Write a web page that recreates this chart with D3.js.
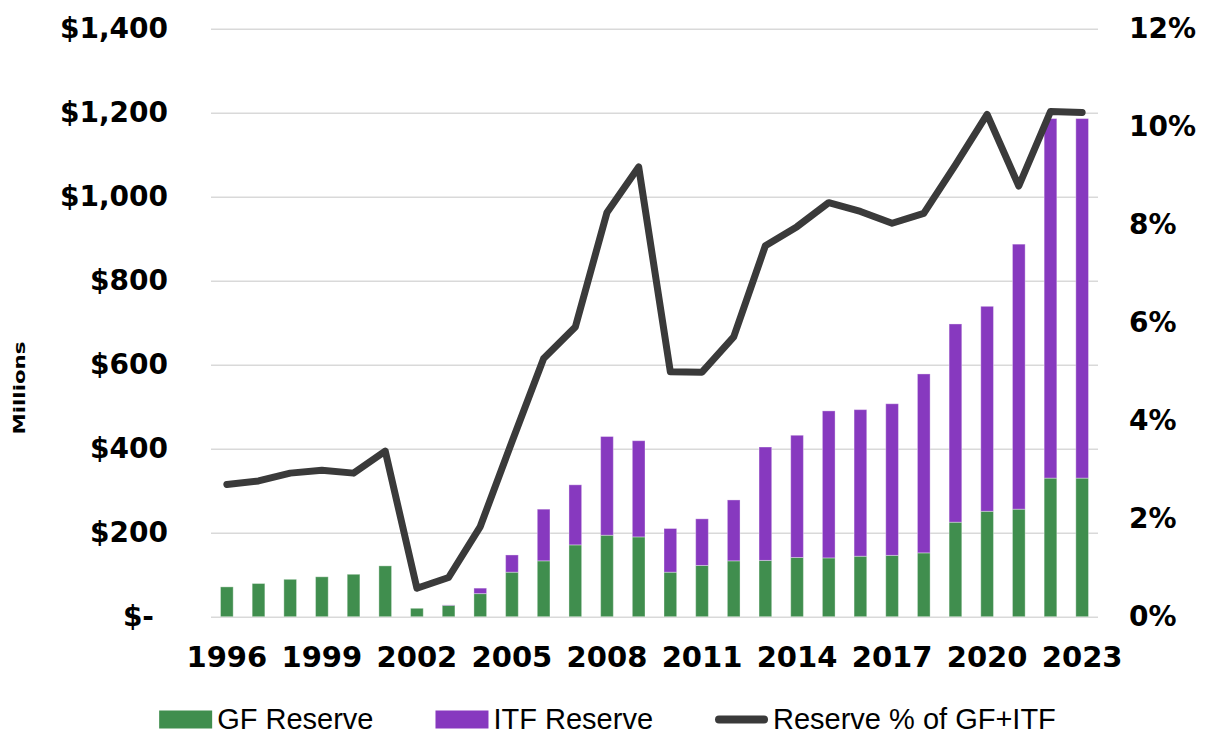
<!DOCTYPE html>
<html>
<head>
<meta charset="utf-8">
<script src="https://cdn.jsdelivr.net/npm/d3@7"></script>
<style>
  body { margin: 0; background: #ffffff; }
  svg { display: block; }
</style>
</head>
<body>
<svg id="chart" width="1215" height="735"></svg>
<script>
// Fiscal years shown on the category axis
const years = [1996, 1997, 1998, 1999, 2000, 2001, 2002, 2003, 2004, 2005,
               2006, 2007, 2008, 2009, 2010, 2011, 2012, 2013, 2014, 2015,
               2016, 2017, 2018, 2019, 2020, 2021, 2022, 2023];

// General Fund reserve ($ millions)
const gfReserve = [71, 79, 89, 95, 101, 121, 20, 27, 55, 106,
                   133, 171, 194, 190, 106, 122, 133, 134, 141, 140,
                   144, 146, 152, 225, 251, 256, 330, 330];

// Income Tax Fund reserve ($ millions)
const itfReserve = [0, 0, 0, 0, 0, 0, 0, 1, 13, 41,
                    123, 143, 235, 229, 104, 111, 145, 270, 291, 350,
                    349, 361, 426, 472, 488, 631, 856, 856];

// Combined reserve as a percent of GF + ITF
const reservePct = [2.70, 2.77, 2.93, 2.99, 2.93, 3.38, 0.58, 0.80, 1.84, 3.57,
                    5.27, 5.91, 8.25, 9.18, 5.00, 4.99, 5.71, 7.57, 7.96, 8.45,
                    8.27, 8.03, 8.23, 9.22, 10.25, 8.79, 10.31, 10.29];

const dollarTicks = [0, 200, 400, 600, 800, 1000, 1200, 1400];
const pctTicks = [0, 2, 4, 6, 8, 10, 12];
const yearTicks = [1996, 1999, 2002, 2005, 2008, 2011, 2014, 2017, 2020, 2023];
const seriesNames = ["GF Reserve", "ITF Reserve", "Reserve % of GF+ITF"];

const colors = { gf: "#408E4E", itf: "#8739BF", line: "#3A3A3A", grid: "#D9D9D9" };
const tickFont = "'DejaVu Sans', Verdana, sans-serif";
const legendFont = "'Liberation Sans', Arial, sans-serif";

const W = 1215, H = 735;
const plot = { left: 211, right: 1098, top: 28.7, bottom: 616.7 };

const svg = d3.select("#chart");
svg.append("rect").attr("width", W).attr("height", H).attr("fill", "#ffffff");

const x = d3.scaleBand()
  .domain(years)
  .range([plot.left, plot.right])
  .paddingInner(0.6)
  .paddingOuter(0.3);

const y = d3.scaleLinear().domain([0, 1400]).range([plot.bottom, plot.top]);
const y2 = d3.scaleLinear().domain([0, 12]).range([plot.bottom, plot.top]);

// Left axis: dollar labels plus horizontal gridlines
const fmtComma = d3.format(",");
const leftAxis = d3.axisLeft(y)
  .tickValues(dollarTicks)
  .tickSize(-(plot.right - plot.left))
  .tickPadding(43)
  .tickFormat(d => d === 0 ? "$-\u2002" : "$" + fmtComma(d));

const gLeft = svg.append("g")
  .attr("transform", `translate(${plot.left},0)`)
  .call(leftAxis);
gLeft.select(".domain").remove();
gLeft.selectAll(".tick line")
  .attr("stroke", colors.grid)
  .attr("stroke-width", 1.6);
gLeft.selectAll(".tick text")
  .attr("font-family", tickFont)
  .attr("font-weight", "bold")
  .attr("font-size", 28)
  .attr("fill", "#000");

// Stacked reserve bars
const rows = years.map((yr, i) => ({ year: yr, gf: gfReserve[i], itf: itfReserve[i] }));
const stacked = d3.stack().keys(["gf", "itf"])(rows);

svg.append("g")
  .selectAll("g")
  .data(stacked)
  .join("g")
  .attr("fill", d => colors[d.key])
  .selectAll("rect")
  .data(d => d)
  .join("rect")
  .attr("x", d => x(d.data.year))
  .attr("width", x.bandwidth())
  .attr("y", d => y(d[1]))
  .attr("height", d => Math.max(0, y(d[0]) - y(d[1])))
  .attr("stroke", "#ffffff")
  .attr("stroke-opacity", 0.35)
  .attr("stroke-width", 1);

// Reserve percentage line on the secondary axis
const linePts = years.map((yr, i) => ({ year: yr, pct: reservePct[i] }));
const line = d3.line()
  .x(d => x(d.year) + x.bandwidth() / 2)
  .y(d => y2(d.pct));

svg.append("path")
  .datum(linePts)
  .attr("d", line)
  .attr("fill", "none")
  .attr("stroke", colors.line)
  .attr("stroke-width", 7)
  .attr("stroke-linecap", "round")
  .attr("stroke-linejoin", "round");

// Right axis: percentage labels
const rightAxis = d3.axisRight(y2)
  .tickValues(pctTicks)
  .tickSize(0)
  .tickPadding(31)
  .tickFormat(d => d + "%");
const gRight = svg.append("g")
  .attr("transform", `translate(${plot.right},0)`)
  .call(rightAxis);
gRight.select(".domain").remove();
gRight.selectAll(".tick text")
  .attr("font-family", tickFont)
  .attr("font-weight", "bold")
  .attr("font-size", 28)
  .attr("fill", "#000");

// Bottom axis: every third year
const bottomAxis = d3.axisBottom(x)
  .tickValues(yearTicks)
  .tickSize(0)
  .tickPadding(30);
const gBottom = svg.append("g")
  .attr("transform", `translate(0,${plot.bottom})`)
  .call(bottomAxis);
gBottom.select(".domain").remove();
gBottom.selectAll(".tick text")
  .attr("font-family", tickFont)
  .attr("font-weight", "bold")
  .attr("font-size", 29)
  .attr("fill", "#000");

// Axis title
svg.append("text")
  .attr("transform", "translate(25,388) rotate(-90)")
  .attr("text-anchor", "middle")
  .attr("font-family", tickFont)
  .attr("font-weight", "bold")
  .attr("font-size", 16.5)
  .attr("textLength", 93)
  .attr("lengthAdjust", "spacingAndGlyphs")
  .attr("fill", "#000")
  .text("Millions");

// Legend, centred under the chart
const legend = svg.append("g");
const swatchW = 53, swatchGap = 5, itemGap = 62;
const legendY = 718.5;
let cursor = 0;
seriesNames.forEach((name, i) => {
  const item = legend.append("g").attr("transform", `translate(${cursor},0)`);
  if (i < 2) {
    item.append("rect")
      .attr("x", 0).attr("y", legendY - 8)
      .attr("width", swatchW).attr("height", 18)
      .attr("fill", i === 0 ? colors.gf : colors.itf);
  } else {
    item.append("line")
      .attr("x1", 4).attr("x2", swatchW - 4)
      .attr("y1", legendY + 1).attr("y2", legendY + 1)
      .attr("stroke", colors.line)
      .attr("stroke-width", 8)
      .attr("stroke-linecap", "round");
  }
  const t = item.append("text")
    .attr("x", swatchW + swatchGap)
    .attr("y", legendY)
    .attr("dy", "0.36em")
    .attr("font-family", legendFont)
    .attr("font-size", 29)
    .attr("fill", "#000")
    .text(name);
  cursor += swatchW + swatchGap + t.node().getComputedTextLength() + itemGap;
});
const legendW = cursor - itemGap;
legend.attr("transform", `translate(${(W - legendW) / 2},0)`);
</script>
</body>
</html>
